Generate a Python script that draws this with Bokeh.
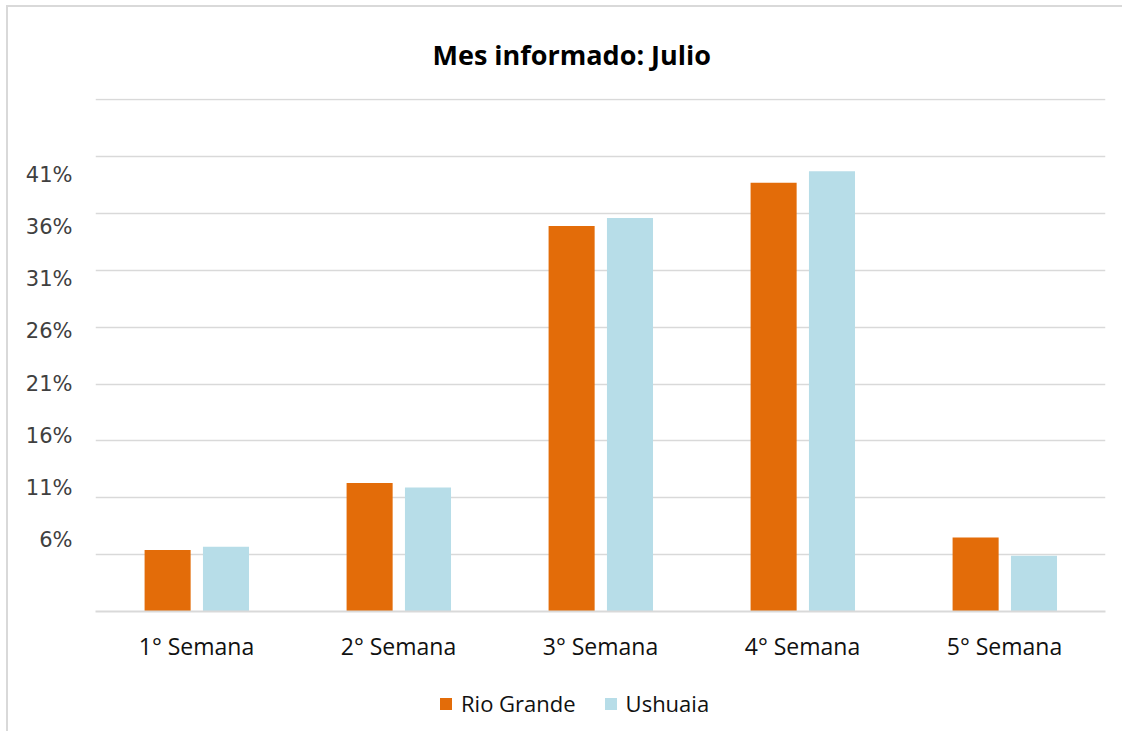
from bokeh.plotting import figure
from bokeh.models import ColumnDataSource, FactorRange, Range1d, FixedTicker, Legend, LegendItem, LinearAxis
from bokeh.transform import dodge
from bokeh.layouts import column
from bokeh.embed import file_html
from bokeh.resources import INLINE

# ---- data ----
semanas = ["1° Semana", "2° Semana", "3° Semana", "4° Semana", "5° Semana"]
rio_grande = [6.4, 12.3, 34.9, 38.7, 7.5]
ushuaia = [6.7, 11.9, 35.6, 39.7, 5.9]
series_names = ["Rio Grande", "Ushuaia"]
grid_ticks = [1, 6, 11, 16, 21, 26, 31, 36, 41, 46]
label_ticks = [6, 11, 16, 21, 26, 31, 36, 41]
label_texts = ["6%", "11%", "16%", "21%", "26%", "31%", "36%", "41%"]
title_text = "Mes informado: Julio"

colors = ["#E36C09", "#B7DDE8"]

src = ColumnDataSource(dict(semana=semanas, rio=rio_grande, ush=ushuaia))

p = figure(
    x_range=FactorRange(*semanas),
    y_range=Range1d(1, 46.1),
    width=1114, height=673,
    output_backend="svg", toolbar_location=None,
    min_border_left=87, min_border_right=17,
    min_border_top=91, min_border_bottom=69,
)
p.outline_line_color = None
p.background_fill_color = "white"
p.border_fill_color = "white"

r1 = p.vbar(x=dodge("semana", -0.143, range=p.x_range), top="rio", bottom=1, width=0.228,
            source=src, fill_color=colors[0], line_color=None)
r2 = p.vbar(x=dodge("semana", 0.146, range=p.x_range), top="ush", bottom=1, width=0.228,
            source=src, fill_color=colors[1], line_color=None)

# title
p.title.text = title_text
p.title.align = "left"
p.title.offset = 337
p.title.text_font = "Open Sans"
p.title.text_font_style = "bold"
p.title.text_font_size = "27px"
p.title.text_color = "#000000"
p.title.standoff = 52

# gridlines on the value scale; main y axis itself hidden
p.yaxis.visible = False
p.ygrid.ticker = FixedTicker(ticks=grid_ticks)
p.ygrid.grid_line_color = "#D9D9D9"
p.ygrid.grid_line_width = 1.5
p.xgrid.grid_line_color = None

# percentage labels, placed as in the original (slightly shifted from the gridlines)
p.extra_y_ranges = {"labels": Range1d(-0.8, 48.3)}
lab_axis = LinearAxis(y_range_name="labels", ticker=FixedTicker(ticks=label_ticks))
lab_axis.major_label_overrides = {t: l for t, l in zip(label_ticks, label_texts)}
lab_axis.axis_line_color = None
lab_axis.major_tick_line_color = None
lab_axis.minor_tick_line_color = None
lab_axis.major_label_text_font = "DejaVu Sans"
lab_axis.major_label_text_font_size = "21px"
lab_axis.major_label_text_color = "#404040"
lab_axis.major_label_standoff = 17
p.add_layout(lab_axis, "left")

# x axis
p.xaxis.axis_line_color = "#D9D9D9"
p.xaxis.axis_line_width = 2
p.xaxis.major_tick_line_color = None
p.xaxis.minor_tick_line_color = None
p.xaxis.major_label_text_font = "Open Sans"
p.xaxis.major_label_text_font_size = "23px"
p.xaxis.major_label_text_color = "#111111"
p.xaxis.major_label_standoff = 12

# ---- legend strip (separate small figure below the chart) ----
lg = figure(
    x_range=Range1d(0, 1), y_range=Range1d(0, 1),
    width=1114, height=51,
    output_backend="svg", toolbar_location=None,
    min_border_left=0, min_border_right=0, min_border_top=0, min_border_bottom=0,
)
lg.axis.visible = False
lg.grid.visible = False
lg.outline_line_color = None
lg.background_fill_color = "white"
lg.border_fill_color = "white"
# swatch-only renderers (nothing drawn in the strip itself)
swatch = ColumnDataSource(dict(x=[float("nan")], top=[float("nan")]))
l1 = lg.vbar(x="x", top="top", width=0.1, source=swatch, fill_color=colors[0], line_color=None)
l2 = lg.vbar(x="x", top="top", width=0.1, source=swatch, fill_color=colors[1], line_color=None)

legend = Legend(
    items=[LegendItem(label=series_names[0], renderers=[l1], index=0),
           LegendItem(label=series_names[1], renderers=[l2], index=0)],
    orientation="horizontal", location=(343, 13),
)
legend.border_line_color = None
legend.background_fill_alpha = 0
legend.label_text_font = "Open Sans"
legend.label_text_font_size = "22px"
legend.label_text_color = "#111111"
legend.glyph_width = 15
legend.glyph_height = 15
legend.label_standoff = 8
legend.spacing = 27
legend.margin = 0
legend.padding = 0
lg.add_layout(legend, "center")

layout = column(p, lg, spacing=0)
layout.styles = {
    "border-left": "2px solid #D9D9D9",
    "border-top": "2px solid #D9D9D9",
    "margin-left": "6px",
    "margin-top": "5px",
}

open("out.html", "w").write(file_html(layout, INLINE))
